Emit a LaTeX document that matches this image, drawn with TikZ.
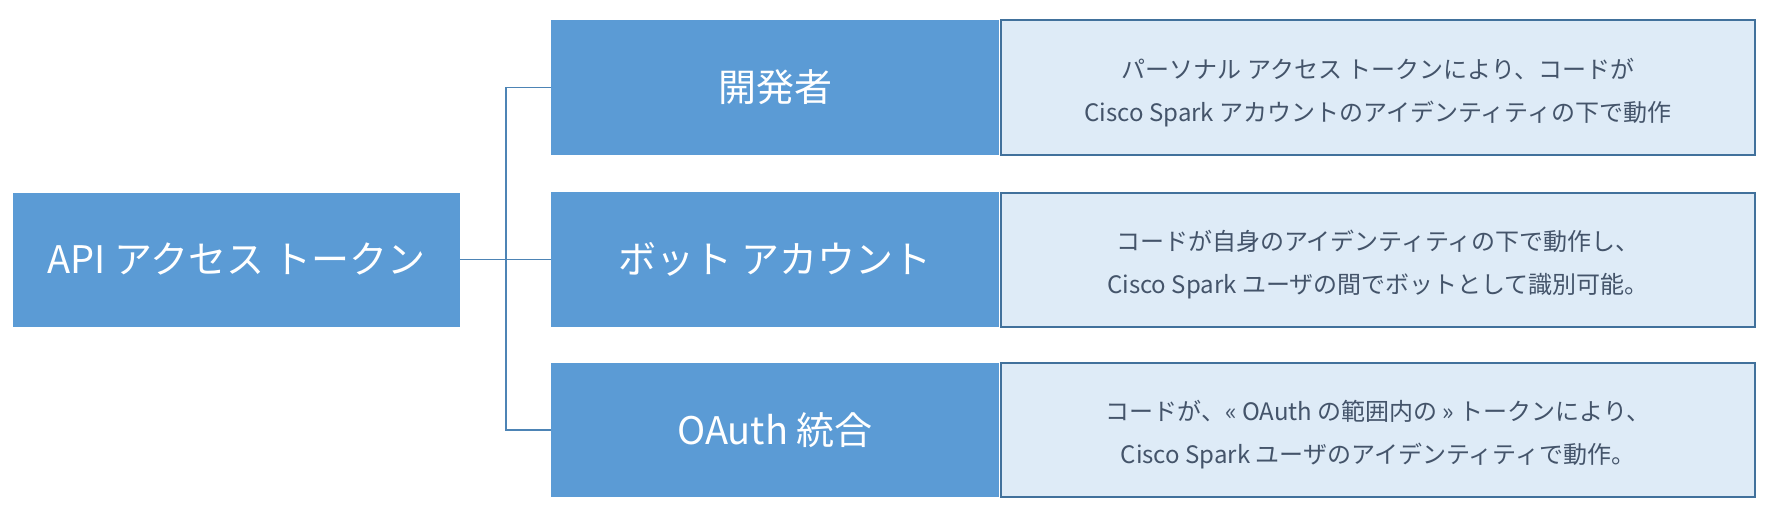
\documentclass[tikz,border=0pt]{standalone}
\usepackage{fontspec}
\setmainfont{Noto Sans CJK JP}
\definecolor{boxblue}{HTML}{5B9BD5}
\definecolor{descfill}{HTML}{DEEBF7}
\definecolor{descline}{HTML}{41719C}
\definecolor{desctext}{HTML}{44546A}
\tikzset{
	mainbox/.style={fill=boxblue, text=white, inner sep=0pt,
		minimum width=448pt, minimum height=135pt,
		font=\fontsize{38}{46}\selectfont},
	descbox/.style={fill=descfill, draw=descline, line width=2pt,
		inner sep=0pt, minimum width=754pt, minimum height=134pt},
	desclabel/.style={text=desctext, align=center, inner sep=0pt,
		yshift=-5pt, font=\fontsize{24}{43}\selectfont},
	link/.style={draw=boxblue!85!black, line width=1.5pt}
}
\begin{document}
\begin{tikzpicture}[x=1pt, y=-1pt]
	\useasboundingbox (0,0) rectangle (1778,519);

	\coordinate[](fork) at (506,259.5);

	%% Root
	\node[mainbox, minimum width=447pt, minimum height=134pt] (token) at (236.5,259.5) {API アクセス トークン};

	%% Token kinds
	\node[mainbox] (dev) at (775,87.5) {開発者};
	\node[mainbox] (bot) at (775,259.5) {ボット アカウント};
	\node[mainbox, minimum height=134pt] (oauth) at (775,430) {OAuth 統合};

	%% Descriptions
	\node[descbox] (devdesc) at (1378,87.5) {};
	\node[descbox] (botdesc) at (1378,259.5) {};
	\node[descbox] (oauthdesc) at (1378,430) {};
	\node[desclabel] (devtext) at (devdesc.center)
	{パーソナル アクセス トークンにより、コードが\\Cisco Spark アカウントのアイデンティティの下で動作};
	\node[desclabel] (bottext) at (botdesc.center)
	{コードが自身のアイデンティティの下で動作し、\\Cisco Spark ユーザの間でボットとして識別可能。};
	\node[desclabel] (oauthtext) at (oauthdesc.center)
	{コードが、« OAuth の範囲内の » トークンにより、\\Cisco Spark ユーザのアイデンティティで動作。};

	%% Connectors
	\draw[link] (token.east) -- (bot.west);
	\draw[link] (dev.west) -| (fork) |- (oauth.west);

\end{tikzpicture}
\end{document}
